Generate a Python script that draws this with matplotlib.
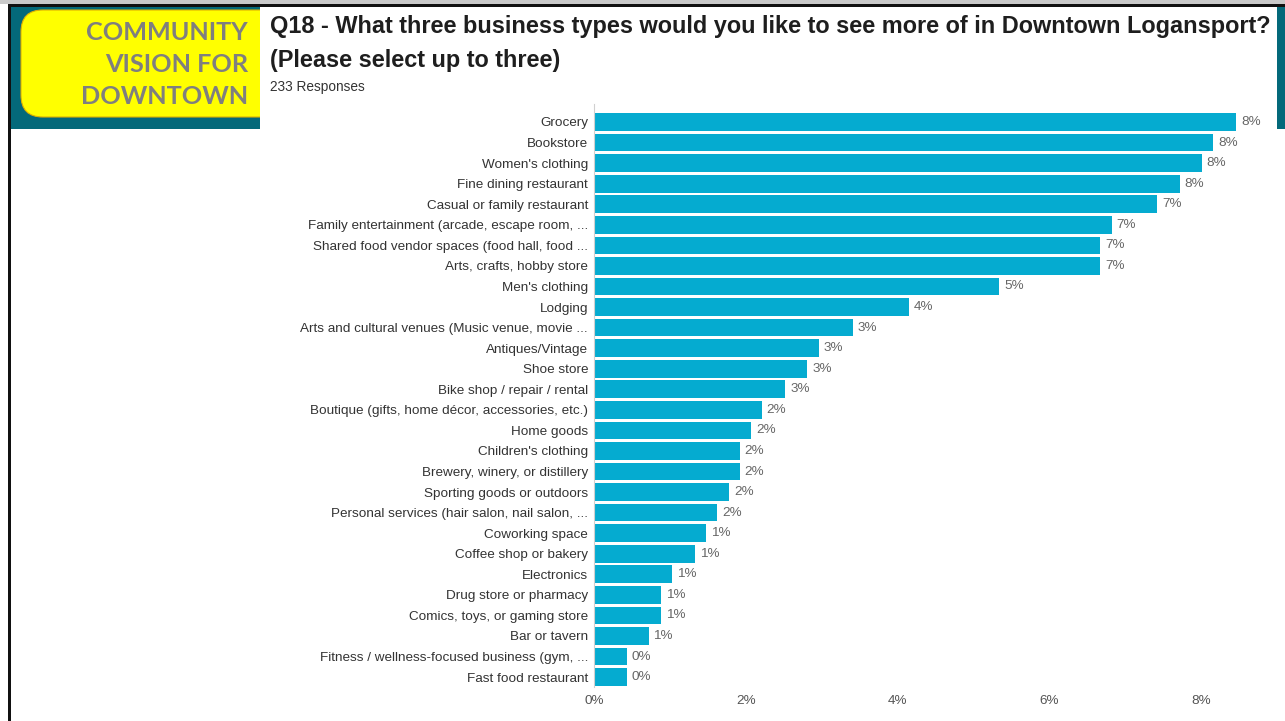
import matplotlib
matplotlib.use("Agg")
import matplotlib.pyplot as plt
from matplotlib.patches import Rectangle, FancyBboxPatch

# Survey results: share of all selections (%)
categories = [
    "Grocery",
    "Bookstore",
    "Women's clothing",
    "Fine dining restaurant",
    "Casual or family restaurant",
    "Family entertainment (arcade, escape room, ...",
    "Shared food vendor spaces (food hall, food ...",
    "Arts, crafts, hobby store",
    "Men's clothing",
    "Lodging",
    "Arts and cultural venues (Music venue, movie ...",
    "Antiques/Vintage",
    "Shoe store",
    "Bike shop / repair / rental",
    "Boutique (gifts, home décor, accessories, etc.)",
    "Home goods",
    "Children's clothing",
    "Brewery, winery, or distillery",
    "Sporting goods or outdoors",
    "Personal services (hair salon, nail salon, ...",
    "Coworking space",
    "Coffee shop or bakery",
    "Electronics",
    "Drug store or pharmacy",
    "Comics, toys, or gaming store",
    "Bar or tavern",
    "Fitness / wellness-focused business (gym, ...",
    "Fast food restaurant",
]
percentages = [
    8.46, 8.16, 8.01, 7.72, 7.42, 6.82, 6.67, 6.67, 5.34, 4.15,
    3.41, 2.96, 2.81, 2.52, 2.21, 2.07, 1.92, 1.92, 1.78, 1.62,
    1.48, 1.33, 1.03, 0.88, 0.88, 0.72, 0.43, 0.43,
]
x_ticks = [0, 2, 4, 6, 8]
x_tick_labels = ["0%", "2%", "4%", "6%", "8%"]

title_line1 = "Q18 - What three business types would you like to see more of in Downtown Logansport?"
title_line2 = "(Please select up to three)"
subtitle = "233 Responses"
banner_lines = ["COMMUNITY", "VISION FOR", "DOWNTOWN"]

W, H = 1285, 721
fig = plt.figure(figsize=(W / 100, H / 100), dpi=100)
fig.patch.set_facecolor("white")


def fx(x):
    return x / W


def fy(y):
    return 1 - y / H


def rect(x0, y0, x1, y1, color, z, **kw):
    fig.add_artist(Rectangle((fx(x0), fy(y1)), fx(x1) - fx(x0), fy(y0) - fy(y1),
                             transform=fig.transFigure, facecolor=color,
                             edgecolor="none", zorder=z, **kw))


# Slide frame
rect(0, 0, W, 4, "#c9c9c9", 1)
rect(8, 4, W, 6.5, "#111111", 2)
rect(8, 4, 10.5, H, "#111111", 2)
rect(10.5, 6.5, W, 129, "#04697a", 1)

# Yellow banner with rounded corners
banner = FancyBboxPatch((fx(21), fy(117)), fx(290) - fx(21), fy(10) - fy(117),
                        boxstyle="round,pad=0,rounding_size=0.017",
                        transform=fig.transFigure, facecolor="#ffff00",
                        edgecolor="#e0b000", linewidth=0.8, zorder=3,
                        mutation_aspect=W / H)
fig.add_artist(banner)

# White panel holding the chart
rect(260, 7, 1277, 129, "white", 4)
rect(10.5, 129, W, H, "white", 4)

for txt, yc in zip(banner_lines, [33, 64, 96]):
    fig.text(fx(248), fy(yc), txt, ha="right", va="center", fontsize=18.2,
             fontweight="bold", family="Lato", color="#7f7f7f", zorder=5)

fig.text(fx(270), fy(27), title_line1, ha="left", va="center", fontsize=16.9,
         fontweight="bold", family="Liberation Sans", color="#1e1e1e", zorder=5)
fig.text(fx(270), fy(61), title_line2, ha="left", va="center", fontsize=16.9,
         fontweight="bold", family="Liberation Sans", color="#1e1e1e", zorder=5)
fig.text(fx(270), fy(87), subtitle, ha="left", va="center", fontsize=9.8,
         family="Liberation Sans", color="#333333", zorder=5)

# Bar chart
ax_left, ax_right = 594, 1277
ax_top, ax_bottom = 104, 687.4
ax = fig.add_axes([fx(ax_left), fy(ax_bottom), fx(ax_right) - fx(ax_left),
                   (ax_bottom - ax_top) / H], zorder=6)
ax.set_facecolor("none")

positions = list(range(len(categories)))
ax.barh(positions, percentages, height=0.86, color="#05abd0", zorder=2)
ax.set_ylim(27.5, -0.875)
ax.set_xlim(0, (ax_right - ax_left) / 75.9)

ax.set_yticks(positions)
ax.set_yticklabels(categories, family="Liberation Sans", fontsize=9.7, color="#333333")
ax.set_xticks(x_ticks)
ax.set_xticklabels(x_tick_labels, family="Liberation Sans", fontsize=9.7, color="#555555")
ax.tick_params(axis="both", length=0)
ax.tick_params(axis="y", pad=4.3)
ax.tick_params(axis="x", pad=5.5)

for s in ["top", "right", "bottom"]:
    ax.spines[s].set_visible(False)
ax.spines["left"].set_color("#d0d0d0")
ax.spines["left"].set_linewidth(0.8)

for p, v in zip(positions, percentages):
    ax.annotate(f"{int(v + 0.5)}%", xy=(v, p), xytext=(3.5, 0),
                textcoords="offset points", ha="left", va="center",
                family="Liberation Sans", fontsize=9.7, color="#666666")

fig.savefig("out.png", dpi=100)
